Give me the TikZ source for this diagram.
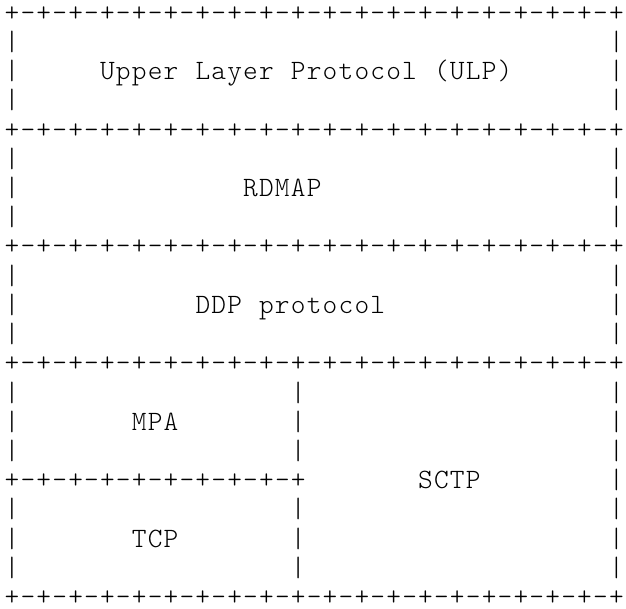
\documentclass[tikz,border=0pt]{standalone}
\usepackage{fontspec}
\newfontfamily\asciifont[LetterSpace=4.3]{Latin Modern Mono Light}
\begin{document}
\begin{tikzpicture}[x=1pt,y=-1pt,
  asc/.style={inner sep=0pt, outer sep=0pt, anchor=base west,
    font=\asciifont\fontsize{28pt}{29.2pt}\selectfont, text=black}]
\useasboundingbox (0,0) rectangle (626,609);
\def\fullborder{+-+-+-+-+-+-+-+-+-+-+-+-+-+-+-+-+-+-+-+\kern-8pt}
\def\halfborder{+-+-+-+-+-+-+-+-+-+}
% column c starts at x = 4.65 + 15.904c ; line k baseline at y = 21.4 + 29.2k
% full borders
\foreach \k/\n in {0/b0,4/b4,8/b8,12/b12,20/b20}{
  \pgfmathsetmacro\yy{21.4+29.2*\k}
  \node[asc] (\n) at (4.65,\yy) {\fullborder};
}
% side pipes of the upper three layers
\foreach \k in {1,2,3,5,6,7,9,10,11}{
  \pgfmathsetmacro\yy{21.4+29.2*\k}
  \node[asc] (pl\k) at (4.65,\yy) {|};
  \node[asc] (pr\k) at (609.0,\yy) {|\kern-8pt};
}
% pipes of the lower split layer
\foreach \k in {13,14,15,17,18,19}{
  \pgfmathsetmacro\yy{21.4+29.2*\k}
  \node[asc] (pl\k) at (4.65,\yy) {|};
  \node[asc] (pm\k) at (290.9,\yy) {|};
  \node[asc] (pr\k) at (609.0,\yy) {|\kern-8pt};
}
% MPA/TCP separator row
\node[asc] (b16) at (4.65,488.6) {\halfborder};
\node[asc] (pr16) at (609.0,488.6) {|\kern-8pt};
% labels (one node per word, placed on its column)
\node[asc] (ulp1)  at (100.1,79.8) {Upper};
\node[asc] (ulp2)  at (195.5,79.8) {Layer};
\node[asc] (ulp3)  at (290.9,79.8) {Protocol};
\node[asc] (ulp4)  at (434.1,79.8) {(ULP)};
\node[asc] (rdmap) at (243.2,196.6) {RDMAP};
\node[asc] (ddp1)  at (195.5,313.4) {DDP};
\node[asc] (ddp2)  at (259.1,313.4) {protocol};
\node[asc] (mpa)   at (131.9,430.2) {MPA};
\node[asc] (sctp)  at (418.2,488.6) {SCTP};
\node[asc] (tcp)   at (131.9,547.0) {TCP};
\end{tikzpicture}
\end{document}
